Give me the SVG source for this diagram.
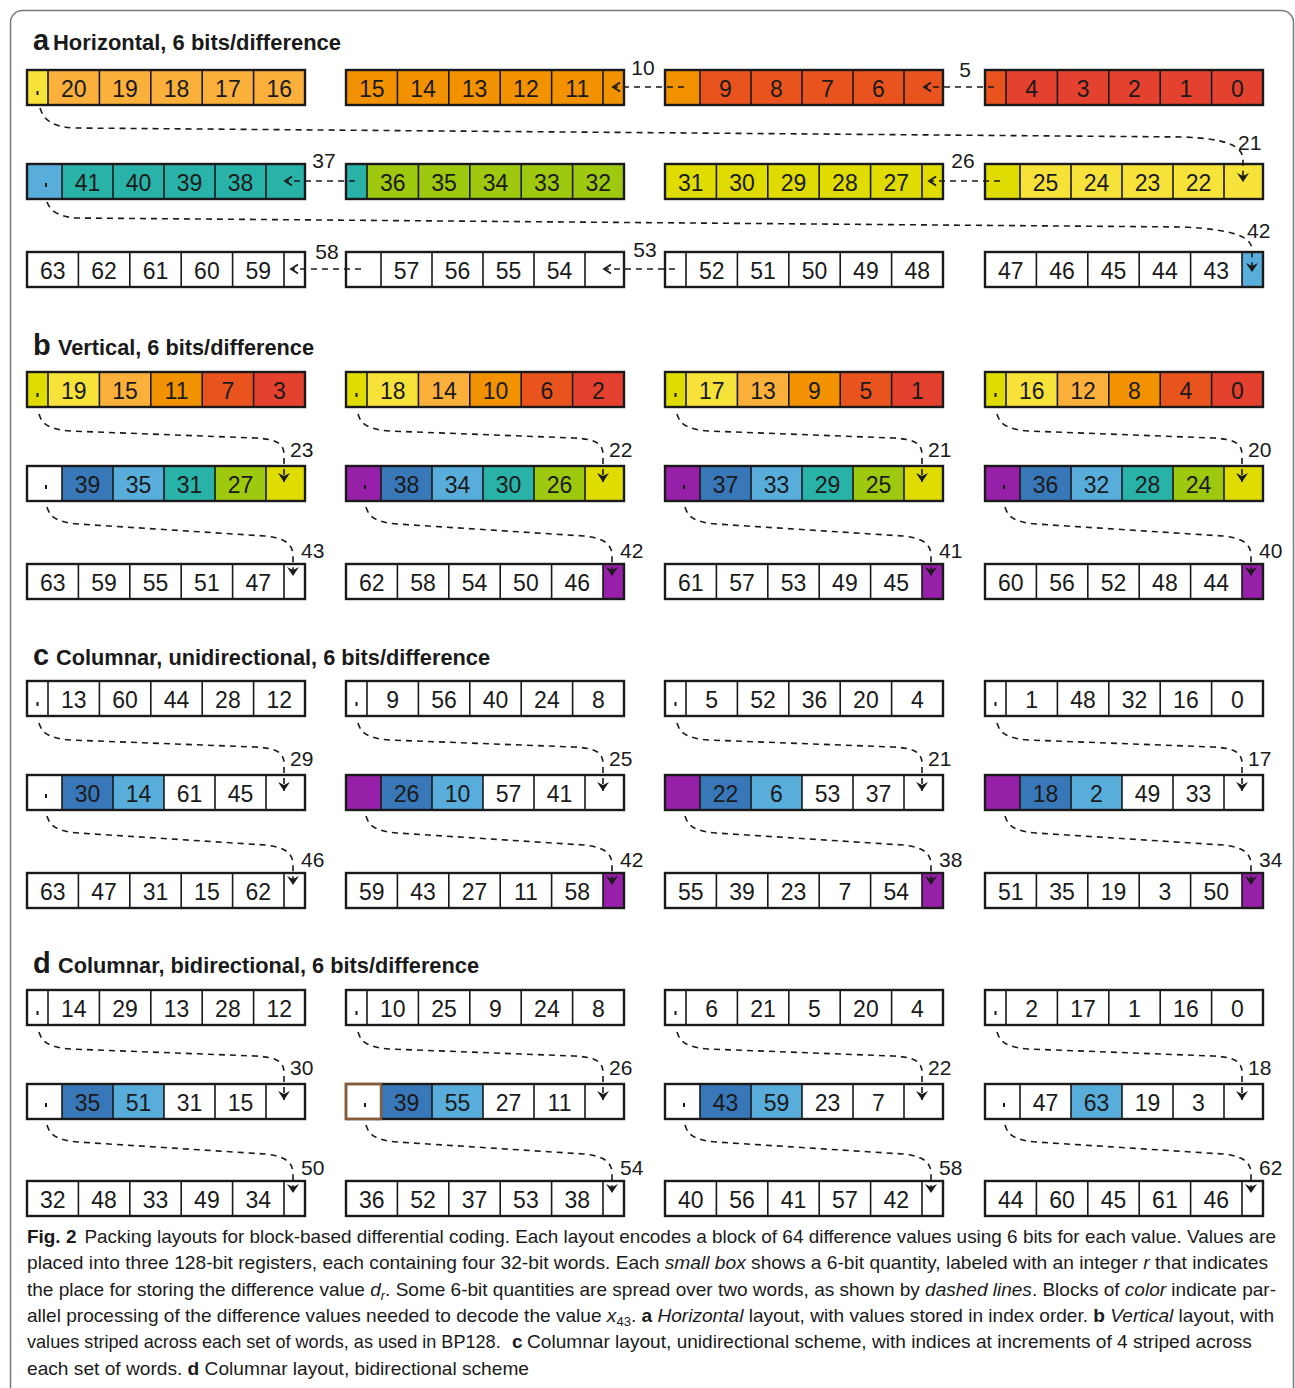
<svg xmlns="http://www.w3.org/2000/svg" xmlns:xlink="http://www.w3.org/1999/xlink" width="1295" height="1388" viewBox="0 0 1295 1388">
<style>
.R{fill:#e4412f}.RO{fill:#e9531d}.O{fill:#f39200}.LO{fill:#fbb03b}.Y{fill:#f7e23a}.YL{fill:#e0dc00}.G{fill:#9ec90f}.T{fill:#28b2a8}.LB{fill:#58addb}.DB{fill:#3878b8}.P{fill:#9620a8}.W{fill:#ffffff}
.dot{fill:#1a1a1a}
.n{font-family:"Liberation Sans Narrow","Liberation Sans",Arial,sans-serif;font-size:23px;text-anchor:middle;fill:#1a1a1a}
.lb{font-family:"Liberation Sans Narrow","Liberation Sans",Arial,sans-serif;font-size:21px;fill:#1a1a1a}
.lbm{font-family:"Liberation Sans Narrow","Liberation Sans",Arial,sans-serif;font-size:21px;fill:#1a1a1a;text-anchor:middle}
.tl{font-family:"Liberation Sans",Arial,sans-serif;font-size:29px;font-weight:bold;fill:#1a1a1a}
.tt{font-family:"Liberation Sans Narrow","Liberation Sans",Arial,sans-serif;font-size:22px;font-weight:bold;fill:#1a1a1a}
.cap{font-family:"Liberation Sans",Arial,sans-serif;font-size:19px;fill:#1a1a1a}
.dl{fill:none;stroke:#1a1a1a;stroke-width:1.6;stroke-dasharray:6 5}
</style>
<defs>
<path id="dA" d="M21 0V35M72.4 0V35M123.8 0V35M175.2 0V35M226.6 0V35" stroke="#1a1a1a" stroke-width="1.6" fill="none"/>
<path id="dB" d="M51.4 0V35M102.8 0V35M154.2 0V35M205.6 0V35M257 0V35" stroke="#1a1a1a" stroke-width="1.6" fill="none"/>
<path id="dC" d="M35 0V35M86 0V35M137 0V35M188 0V35M239 0V35" stroke="#1a1a1a" stroke-width="1.6" fill="none"/>
<rect id="ol" width="278" height="35" fill="none" stroke="#1a1a1a" stroke-width="2.4"/>
<marker id="ah" markerUnits="userSpaceOnUse" markerWidth="16" markerHeight="16" viewBox="-12 -8 16 16" refX="0" refY="0" orient="auto"><path d="M0 0L-9 -6L-6 0L-9 6Z" fill="#1a1a1a"/></marker>
<marker id="ch" markerUnits="userSpaceOnUse" markerWidth="16" markerHeight="16" viewBox="-10 -8 16 16" refX="0" refY="0" orient="auto"><path d="M-7 -4.5L0 0L-7 4.5" fill="none" stroke="#1a1a1a" stroke-width="1.8"/></marker>
</defs>
<rect width="1295" height="1388" fill="#ffffff"/>
<rect x="10.5" y="10.5" width="1283" height="1400" rx="12" fill="none" stroke="#7a7a7a" stroke-width="1.5"/>

<!-- titles -->
<text class="tl" x="33" y="50">a</text><text class="tt" x="53" y="50" textLength="288" lengthAdjust="spacingAndGlyphs">Horizontal, 6 bits/difference</text>
<text class="tl" x="33" y="355">b</text><text class="tt" x="58" y="355" textLength="256" lengthAdjust="spacingAndGlyphs">Vertical, 6 bits/difference</text>
<text class="tl" x="33" y="665">c</text><text class="tt" x="56" y="665" textLength="434" lengthAdjust="spacingAndGlyphs">Columnar, unidirectional, 6 bits/difference</text>
<text class="tl" x="33" y="973">d</text><text class="tt" x="58" y="973" textLength="421" lengthAdjust="spacingAndGlyphs">Columnar, bidirectional, 6 bits/difference</text>

<!-- section a -->
<g id="a1w3" transform="translate(27,70)"><rect class="LO" width="278" height="35"/><rect class="Y" width="21" height="35"/><use href="#dA"/><use href="#ol"/><rect class="dot" x="9.5" y="21" width="2" height="4"/><text class="n" y="26.5"><tspan x="46.7">20</tspan><tspan x="98.1">19</tspan><tspan x="149.5">18</tspan><tspan x="200.9">17</tspan><tspan x="252.3">16</tspan></text></g>
<g id="a1w2" transform="translate(346,70)"><rect class="O" width="278" height="35"/><use href="#dB"/><use href="#ol"/><text class="n" y="26.5"><tspan x="25.7">15</tspan><tspan x="77.1">14</tspan><tspan x="128.5">13</tspan><tspan x="179.9">12</tspan><tspan x="231.3">11</tspan></text></g>
<g id="a1w1" transform="translate(665,70)"><rect class="RO" width="278" height="35"/><rect class="O" width="35" height="35"/><use href="#dC"/><use href="#ol"/><text class="n" y="26.5"><tspan x="60.5">9</tspan><tspan x="111.5">8</tspan><tspan x="162.5">7</tspan><tspan x="213.5">6</tspan></text></g>
<g id="a1w0" transform="translate(985,70)"><rect class="R" width="278" height="35"/><rect class="RO" width="21" height="35"/><use href="#dA"/><use href="#ol"/><text class="n" y="26.5"><tspan x="46.7">4</tspan><tspan x="98.1">3</tspan><tspan x="149.5">2</tspan><tspan x="200.9">1</tspan><tspan x="252.3">0</tspan></text></g>

<g id="a2w3" transform="translate(27,164)"><rect class="T" width="278" height="35"/><rect class="LB" width="35" height="35"/><use href="#dC"/><use href="#ol"/><rect class="dot" x="18" y="19" width="2" height="4"/><text class="n" y="26.5"><tspan x="60.5">41</tspan><tspan x="111.5">40</tspan><tspan x="162.5">39</tspan><tspan x="213.5">38</tspan></text></g>
<g id="a2w2" transform="translate(346,164)"><rect class="G" width="278" height="35"/><rect class="T" width="21" height="35"/><use href="#dA"/><use href="#ol"/><text class="n" y="26.5"><tspan x="46.7">36</tspan><tspan x="98.1">35</tspan><tspan x="149.5">34</tspan><tspan x="200.9">33</tspan><tspan x="252.3">32</tspan></text></g>
<g id="a2w1" transform="translate(665,164)"><rect class="YL" width="278" height="35"/><use href="#dB"/><use href="#ol"/><text class="n" y="26.5"><tspan x="25.7">31</tspan><tspan x="77.1">30</tspan><tspan x="128.5">29</tspan><tspan x="179.9">28</tspan><tspan x="231.3">27</tspan></text></g>
<g id="a2w0" transform="translate(985,164)"><rect class="Y" width="278" height="35"/><rect class="YL" width="35" height="35"/><use href="#dC"/><use href="#ol"/><text class="n" y="26.5"><tspan x="60.5">25</tspan><tspan x="111.5">24</tspan><tspan x="162.5">23</tspan><tspan x="213.5">22</tspan></text></g>

<g id="a3w3" transform="translate(27,252)"><rect class="W" width="278" height="35"/><use href="#dB"/><use href="#ol"/><text class="n" y="26.5"><tspan x="25.7">63</tspan><tspan x="77.1">62</tspan><tspan x="128.5">61</tspan><tspan x="179.9">60</tspan><tspan x="231.3">59</tspan></text></g>
<g id="a3w2" transform="translate(346,252)"><rect class="W" width="278" height="35"/><use href="#dC"/><use href="#ol"/><text class="n" y="26.5"><tspan x="60.5">57</tspan><tspan x="111.5">56</tspan><tspan x="162.5">55</tspan><tspan x="213.5">54</tspan></text></g>
<g id="a3w1" transform="translate(665,252)"><rect class="W" width="278" height="35"/><use href="#dA"/><use href="#ol"/><text class="n" y="26.5"><tspan x="46.7">52</tspan><tspan x="98.1">51</tspan><tspan x="149.5">50</tspan><tspan x="200.9">49</tspan><tspan x="252.3">48</tspan></text></g>
<g id="a3w0" transform="translate(985,252)"><rect class="W" width="278" height="35"/><rect class="LB" x="257" width="21" height="35"/><use href="#dB"/><use href="#ol"/><text class="n" y="26.5"><tspan x="25.7">47</tspan><tspan x="77.1">46</tspan><tspan x="128.5">45</tspan><tspan x="179.9">44</tspan><tspan x="231.3">43</tspan></text></g>

<!-- section b -->
<g id="b1w3" transform="translate(27,372)"><rect class="YL" width="21" height="35"/><rect class="Y" x="21" width="51.4" height="35"/><rect class="LO" x="72.4" width="51.4" height="35"/><rect class="O" x="123.8" width="51.4" height="35"/><rect class="RO" x="175.2" width="51.4" height="35"/><rect class="R" x="226.6" width="51.4" height="35"/><use href="#dA"/><use href="#ol"/><rect class="dot" x="9.5" y="21" width="2" height="4"/><text class="n" y="26.5"><tspan x="46.7">19</tspan><tspan x="98.1">15</tspan><tspan x="149.5">11</tspan><tspan x="200.9">7</tspan><tspan x="252.3">3</tspan></text></g>
<g id="b1w2" transform="translate(346,372)"><rect class="YL" width="21" height="35"/><rect class="Y" x="21" width="51.4" height="35"/><rect class="LO" x="72.4" width="51.4" height="35"/><rect class="O" x="123.8" width="51.4" height="35"/><rect class="RO" x="175.2" width="51.4" height="35"/><rect class="R" x="226.6" width="51.4" height="35"/><use href="#dA"/><use href="#ol"/><rect class="dot" x="9.5" y="21" width="2" height="4"/><text class="n" y="26.5"><tspan x="46.7">18</tspan><tspan x="98.1">14</tspan><tspan x="149.5">10</tspan><tspan x="200.9">6</tspan><tspan x="252.3">2</tspan></text></g>
<g id="b1w1" transform="translate(665,372)"><rect class="YL" width="21" height="35"/><rect class="Y" x="21" width="51.4" height="35"/><rect class="LO" x="72.4" width="51.4" height="35"/><rect class="O" x="123.8" width="51.4" height="35"/><rect class="RO" x="175.2" width="51.4" height="35"/><rect class="R" x="226.6" width="51.4" height="35"/><use href="#dA"/><use href="#ol"/><rect class="dot" x="9.5" y="21" width="2" height="4"/><text class="n" y="26.5"><tspan x="46.7">17</tspan><tspan x="98.1">13</tspan><tspan x="149.5">9</tspan><tspan x="200.9">5</tspan><tspan x="252.3">1</tspan></text></g>
<g id="b1w0" transform="translate(985,372)"><rect class="YL" width="21" height="35"/><rect class="Y" x="21" width="51.4" height="35"/><rect class="LO" x="72.4" width="51.4" height="35"/><rect class="O" x="123.8" width="51.4" height="35"/><rect class="RO" x="175.2" width="51.4" height="35"/><rect class="R" x="226.6" width="51.4" height="35"/><use href="#dA"/><use href="#ol"/><rect class="dot" x="9.5" y="21" width="2" height="4"/><text class="n" y="26.5"><tspan x="46.7">16</tspan><tspan x="98.1">12</tspan><tspan x="149.5">8</tspan><tspan x="200.9">4</tspan><tspan x="252.3">0</tspan></text></g>

<g id="b2w3" transform="translate(27,466)"><rect class="W" width="35" height="35"/><rect class="DB" x="35" width="51" height="35"/><rect class="LB" x="86" width="51" height="35"/><rect class="T" x="137" width="51" height="35"/><rect class="G" x="188" width="51" height="35"/><rect class="YL" x="239" width="39" height="35"/><use href="#dC"/><use href="#ol"/><rect class="dot" x="18" y="19" width="2" height="4"/><text class="n" y="26.5"><tspan x="60.5">39</tspan><tspan x="111.5">35</tspan><tspan x="162.5">31</tspan><tspan x="213.5">27</tspan></text></g>
<g id="b2w2" transform="translate(346,466)"><rect class="P" width="35" height="35"/><rect class="DB" x="35" width="51" height="35"/><rect class="LB" x="86" width="51" height="35"/><rect class="T" x="137" width="51" height="35"/><rect class="G" x="188" width="51" height="35"/><rect class="YL" x="239" width="39" height="35"/><use href="#dC"/><use href="#ol"/><rect class="dot" x="18" y="19" width="2" height="4"/><text class="n" y="26.5"><tspan x="60.5">38</tspan><tspan x="111.5">34</tspan><tspan x="162.5">30</tspan><tspan x="213.5">26</tspan></text></g>
<g id="b2w1" transform="translate(665,466)"><rect class="P" width="35" height="35"/><rect class="DB" x="35" width="51" height="35"/><rect class="LB" x="86" width="51" height="35"/><rect class="T" x="137" width="51" height="35"/><rect class="G" x="188" width="51" height="35"/><rect class="YL" x="239" width="39" height="35"/><use href="#dC"/><use href="#ol"/><rect class="dot" x="18" y="19" width="2" height="4"/><text class="n" y="26.5"><tspan x="60.5">37</tspan><tspan x="111.5">33</tspan><tspan x="162.5">29</tspan><tspan x="213.5">25</tspan></text></g>
<g id="b2w0" transform="translate(985,466)"><rect class="P" width="35" height="35"/><rect class="DB" x="35" width="51" height="35"/><rect class="LB" x="86" width="51" height="35"/><rect class="T" x="137" width="51" height="35"/><rect class="G" x="188" width="51" height="35"/><rect class="YL" x="239" width="39" height="35"/><use href="#dC"/><use href="#ol"/><rect class="dot" x="18" y="19" width="2" height="4"/><text class="n" y="26.5"><tspan x="60.5">36</tspan><tspan x="111.5">32</tspan><tspan x="162.5">28</tspan><tspan x="213.5">24</tspan></text></g>

<g id="b3w3" transform="translate(27,564)"><rect class="W" width="278" height="35"/><use href="#dB"/><use href="#ol"/><text class="n" y="26.5"><tspan x="25.7">63</tspan><tspan x="77.1">59</tspan><tspan x="128.5">55</tspan><tspan x="179.9">51</tspan><tspan x="231.3">47</tspan></text></g>
<g id="b3w2" transform="translate(346,564)"><rect class="W" width="278" height="35"/><rect class="P" x="257" width="21" height="35"/><use href="#dB"/><use href="#ol"/><text class="n" y="26.5"><tspan x="25.7">62</tspan><tspan x="77.1">58</tspan><tspan x="128.5">54</tspan><tspan x="179.9">50</tspan><tspan x="231.3">46</tspan></text></g>
<g id="b3w1" transform="translate(665,564)"><rect class="W" width="278" height="35"/><rect class="P" x="257" width="21" height="35"/><use href="#dB"/><use href="#ol"/><text class="n" y="26.5"><tspan x="25.7">61</tspan><tspan x="77.1">57</tspan><tspan x="128.5">53</tspan><tspan x="179.9">49</tspan><tspan x="231.3">45</tspan></text></g>
<g id="b3w0" transform="translate(985,564)"><rect class="W" width="278" height="35"/><rect class="P" x="257" width="21" height="35"/><use href="#dB"/><use href="#ol"/><text class="n" y="26.5"><tspan x="25.7">60</tspan><tspan x="77.1">56</tspan><tspan x="128.5">52</tspan><tspan x="179.9">48</tspan><tspan x="231.3">44</tspan></text></g>

<!-- section c -->
<g id="c1w3" transform="translate(27,681)"><rect class="W" width="278" height="35"/><use href="#dA"/><use href="#ol"/><rect class="dot" x="9.5" y="21" width="2" height="4"/><text class="n" y="26.5"><tspan x="46.7">13</tspan><tspan x="98.1">60</tspan><tspan x="149.5">44</tspan><tspan x="200.9">28</tspan><tspan x="252.3">12</tspan></text></g>
<g id="c1w2" transform="translate(346,681)"><rect class="W" width="278" height="35"/><use href="#dA"/><use href="#ol"/><rect class="dot" x="9.5" y="21" width="2" height="4"/><text class="n" y="26.5"><tspan x="46.7">9</tspan><tspan x="98.1">56</tspan><tspan x="149.5">40</tspan><tspan x="200.9">24</tspan><tspan x="252.3">8</tspan></text></g>
<g id="c1w1" transform="translate(665,681)"><rect class="W" width="278" height="35"/><use href="#dA"/><use href="#ol"/><rect class="dot" x="9.5" y="21" width="2" height="4"/><text class="n" y="26.5"><tspan x="46.7">5</tspan><tspan x="98.1">52</tspan><tspan x="149.5">36</tspan><tspan x="200.9">20</tspan><tspan x="252.3">4</tspan></text></g>
<g id="c1w0" transform="translate(985,681)"><rect class="W" width="278" height="35"/><use href="#dA"/><use href="#ol"/><rect class="dot" x="9.5" y="21" width="2" height="4"/><text class="n" y="26.5"><tspan x="46.7">1</tspan><tspan x="98.1">48</tspan><tspan x="149.5">32</tspan><tspan x="200.9">16</tspan><tspan x="252.3">0</tspan></text></g>

<g id="c2w3" transform="translate(27,775)"><rect class="W" width="278" height="35"/><rect class="DB" x="35" width="51" height="35"/><rect class="LB" x="86" width="51" height="35"/><use href="#dC"/><use href="#ol"/><rect class="dot" x="18" y="19" width="2" height="4"/><text class="n" y="26.5"><tspan x="60.5">30</tspan><tspan x="111.5">14</tspan><tspan x="162.5">61</tspan><tspan x="213.5">45</tspan></text></g>
<g id="c2w2" transform="translate(346,775)"><rect class="W" width="278" height="35"/><rect class="P" width="35" height="35"/><rect class="DB" x="35" width="51" height="35"/><rect class="LB" x="86" width="51" height="35"/><use href="#dC"/><use href="#ol"/><text class="n" y="26.5"><tspan x="60.5">26</tspan><tspan x="111.5">10</tspan><tspan x="162.5">57</tspan><tspan x="213.5">41</tspan></text></g>
<g id="c2w1" transform="translate(665,775)"><rect class="W" width="278" height="35"/><rect class="P" width="35" height="35"/><rect class="DB" x="35" width="51" height="35"/><rect class="LB" x="86" width="51" height="35"/><use href="#dC"/><use href="#ol"/><text class="n" y="26.5"><tspan x="60.5">22</tspan><tspan x="111.5">6</tspan><tspan x="162.5">53</tspan><tspan x="213.5">37</tspan></text></g>
<g id="c2w0" transform="translate(985,775)"><rect class="W" width="278" height="35"/><rect class="P" width="35" height="35"/><rect class="DB" x="35" width="51" height="35"/><rect class="LB" x="86" width="51" height="35"/><use href="#dC"/><use href="#ol"/><text class="n" y="26.5"><tspan x="60.5">18</tspan><tspan x="111.5">2</tspan><tspan x="162.5">49</tspan><tspan x="213.5">33</tspan></text></g>

<g id="c3w3" transform="translate(27,873)"><rect class="W" width="278" height="35"/><use href="#dB"/><use href="#ol"/><text class="n" y="26.5"><tspan x="25.7">63</tspan><tspan x="77.1">47</tspan><tspan x="128.5">31</tspan><tspan x="179.9">15</tspan><tspan x="231.3">62</tspan></text></g>
<g id="c3w2" transform="translate(346,873)"><rect class="W" width="278" height="35"/><rect class="P" x="257" width="21" height="35"/><use href="#dB"/><use href="#ol"/><text class="n" y="26.5"><tspan x="25.7">59</tspan><tspan x="77.1">43</tspan><tspan x="128.5">27</tspan><tspan x="179.9">11</tspan><tspan x="231.3">58</tspan></text></g>
<g id="c3w1" transform="translate(665,873)"><rect class="W" width="278" height="35"/><rect class="P" x="257" width="21" height="35"/><use href="#dB"/><use href="#ol"/><text class="n" y="26.5"><tspan x="25.7">55</tspan><tspan x="77.1">39</tspan><tspan x="128.5">23</tspan><tspan x="179.9">7</tspan><tspan x="231.3">54</tspan></text></g>
<g id="c3w0" transform="translate(985,873)"><rect class="W" width="278" height="35"/><rect class="P" x="257" width="21" height="35"/><use href="#dB"/><use href="#ol"/><text class="n" y="26.5"><tspan x="25.7">51</tspan><tspan x="77.1">35</tspan><tspan x="128.5">19</tspan><tspan x="179.9">3</tspan><tspan x="231.3">50</tspan></text></g>

<!-- section d -->
<g id="d1w3" transform="translate(27,990)"><rect class="W" width="278" height="35"/><use href="#dA"/><use href="#ol"/><rect class="dot" x="9.5" y="21" width="2" height="4"/><text class="n" y="26.5"><tspan x="46.7">14</tspan><tspan x="98.1">29</tspan><tspan x="149.5">13</tspan><tspan x="200.9">28</tspan><tspan x="252.3">12</tspan></text></g>
<g id="d1w2" transform="translate(346,990)"><rect class="W" width="278" height="35"/><use href="#dA"/><use href="#ol"/><rect class="dot" x="9.5" y="21" width="2" height="4"/><text class="n" y="26.5"><tspan x="46.7">10</tspan><tspan x="98.1">25</tspan><tspan x="149.5">9</tspan><tspan x="200.9">24</tspan><tspan x="252.3">8</tspan></text></g>
<g id="d1w1" transform="translate(665,990)"><rect class="W" width="278" height="35"/><use href="#dA"/><use href="#ol"/><rect class="dot" x="9.5" y="21" width="2" height="4"/><text class="n" y="26.5"><tspan x="46.7">6</tspan><tspan x="98.1">21</tspan><tspan x="149.5">5</tspan><tspan x="200.9">20</tspan><tspan x="252.3">4</tspan></text></g>
<g id="d1w0" transform="translate(985,990)"><rect class="W" width="278" height="35"/><use href="#dA"/><use href="#ol"/><rect class="dot" x="9.5" y="21" width="2" height="4"/><text class="n" y="26.5"><tspan x="46.7">2</tspan><tspan x="98.1">17</tspan><tspan x="149.5">1</tspan><tspan x="200.9">16</tspan><tspan x="252.3">0</tspan></text></g>

<g id="d2w3" transform="translate(27,1084)"><rect class="W" width="278" height="35"/><rect class="DB" x="35" width="51" height="35"/><rect class="LB" x="86" width="51" height="35"/><use href="#dC"/><use href="#ol"/><rect class="dot" x="18" y="19" width="2" height="4"/><text class="n" y="26.5"><tspan x="60.5">35</tspan><tspan x="111.5">51</tspan><tspan x="162.5">31</tspan><tspan x="213.5">15</tspan></text></g>
<g id="d2w2" transform="translate(346,1084)"><rect class="W" width="278" height="35"/><rect class="DB" x="35" width="51" height="35"/><rect class="LB" x="86" width="51" height="35"/><use href="#dC"/><use href="#ol"/><rect x="0" y="0" width="35" height="35" fill="none" stroke="#8b5a36" stroke-width="2.4"/><rect class="dot" x="18" y="19" width="2" height="4"/><text class="n" y="26.5"><tspan x="60.5">39</tspan><tspan x="111.5">55</tspan><tspan x="162.5">27</tspan><tspan x="213.5">11</tspan></text></g>
<g id="d2w1" transform="translate(665,1084)"><rect class="W" width="278" height="35"/><rect class="DB" x="35" width="51" height="35"/><rect class="LB" x="86" width="51" height="35"/><use href="#dC"/><use href="#ol"/><rect class="dot" x="18" y="19" width="2" height="4"/><text class="n" y="26.5"><tspan x="60.5">43</tspan><tspan x="111.5">59</tspan><tspan x="162.5">23</tspan><tspan x="213.5">7</tspan></text></g>
<g id="d2w0" transform="translate(985,1084)"><rect class="W" width="278" height="35"/><rect class="LB" x="86" width="51" height="35"/><use href="#dC"/><use href="#ol"/><rect class="dot" x="18" y="19" width="2" height="4"/><text class="n" y="26.5"><tspan x="60.5">47</tspan><tspan x="111.5">63</tspan><tspan x="162.5">19</tspan><tspan x="213.5">3</tspan></text></g>

<g id="d3w3" transform="translate(27,1181)"><rect class="W" width="278" height="35"/><use href="#dB"/><use href="#ol"/><text class="n" y="26.5"><tspan x="25.7">32</tspan><tspan x="77.1">48</tspan><tspan x="128.5">33</tspan><tspan x="179.9">49</tspan><tspan x="231.3">34</tspan></text></g>
<g id="d3w2" transform="translate(346,1181)"><rect class="W" width="278" height="35"/><use href="#dB"/><use href="#ol"/><text class="n" y="26.5"><tspan x="25.7">36</tspan><tspan x="77.1">52</tspan><tspan x="128.5">37</tspan><tspan x="179.9">53</tspan><tspan x="231.3">38</tspan></text></g>
<g id="d3w1" transform="translate(665,1181)"><rect class="W" width="278" height="35"/><use href="#dB"/><use href="#ol"/><text class="n" y="26.5"><tspan x="25.7">40</tspan><tspan x="77.1">56</tspan><tspan x="128.5">41</tspan><tspan x="179.9">57</tspan><tspan x="231.3">42</tspan></text></g>
<g id="d3w0" transform="translate(985,1181)"><rect class="W" width="278" height="35"/><use href="#dB"/><use href="#ol"/><text class="n" y="26.5"><tspan x="25.7">44</tspan><tspan x="77.1">60</tspan><tspan x="128.5">45</tspan><tspan x="179.9">61</tspan><tspan x="231.3">46</tspan></text></g>

<!-- connectors -->
<g id="connectors">
<path class="dl" d="M40 108C44 120 52 127 75 128L1185 137C1225 139 1243 145 1243 160L1243 182" marker-end="url(#ah)"/>
<path class="dl" d="M47 202C50 210 57 216 75 218L1185 227C1232 230 1252 236 1252 250L1252 272" marker-end="url(#ah)"/>
<path class="dl" d="M684 87H613" marker-end="url(#ch)"/>
<path class="dl" d="M994 87H924" marker-end="url(#ch)"/>
<path class="dl" d="M355 181H285" marker-end="url(#ch)"/>
<path class="dl" d="M1000 181H929" marker-end="url(#ch)"/>
<path class="dl" d="M361 269H291" marker-end="url(#ch)"/>
<path class="dl" d="M675 269H604" marker-end="url(#ch)"/>

<path class="dl" transform="translate(27,372)" d="M12 42C15 52 21 57 43 59L228 66C249 67 257 71 257 83L257 110" marker-end="url(#ah)"/>
<path class="dl" transform="translate(346,372)" d="M12 42C15 52 21 57 43 59L228 66C249 67 257 71 257 83L257 110" marker-end="url(#ah)"/>
<path class="dl" transform="translate(665,372)" d="M12 42C15 52 21 57 43 59L228 66C249 67 257 71 257 83L257 110" marker-end="url(#ah)"/>
<path class="dl" transform="translate(985,372)" d="M12 42C15 52 21 57 43 59L228 66C249 67 257 71 257 83L257 110" marker-end="url(#ah)"/>
<path class="dl" transform="translate(27,466)" d="M20 41C23 51 29 56 51 58L238 70C258 72 266 78 266 90L266 110" marker-end="url(#ah)"/>
<path class="dl" transform="translate(346,466)" d="M20 41C23 51 29 56 51 58L238 70C258 72 266 78 266 90L266 110" marker-end="url(#ah)"/>
<path class="dl" transform="translate(665,466)" d="M20 41C23 51 29 56 51 58L238 70C258 72 266 78 266 90L266 110" marker-end="url(#ah)"/>
<path class="dl" transform="translate(985,466)" d="M20 41C23 51 29 56 51 58L238 70C258 72 266 78 266 90L266 110" marker-end="url(#ah)"/>

<path class="dl" transform="translate(27,681)" d="M12 42C15 52 21 57 43 59L228 66C249 67 257 71 257 83L257 110" marker-end="url(#ah)"/>
<path class="dl" transform="translate(346,681)" d="M12 42C15 52 21 57 43 59L228 66C249 67 257 71 257 83L257 110" marker-end="url(#ah)"/>
<path class="dl" transform="translate(665,681)" d="M12 42C15 52 21 57 43 59L228 66C249 67 257 71 257 83L257 110" marker-end="url(#ah)"/>
<path class="dl" transform="translate(985,681)" d="M12 42C15 52 21 57 43 59L228 66C249 67 257 71 257 83L257 110" marker-end="url(#ah)"/>
<path class="dl" transform="translate(27,775)" d="M20 41C23 51 29 56 51 58L238 70C258 72 266 78 266 90L266 110" marker-end="url(#ah)"/>
<path class="dl" transform="translate(346,775)" d="M20 41C23 51 29 56 51 58L238 70C258 72 266 78 266 90L266 110" marker-end="url(#ah)"/>
<path class="dl" transform="translate(665,775)" d="M20 41C23 51 29 56 51 58L238 70C258 72 266 78 266 90L266 110" marker-end="url(#ah)"/>
<path class="dl" transform="translate(985,775)" d="M20 41C23 51 29 56 51 58L238 70C258 72 266 78 266 90L266 110" marker-end="url(#ah)"/>

<path class="dl" transform="translate(27,990)" d="M12 42C15 52 21 57 43 59L228 66C249 67 257 71 257 83L257 110" marker-end="url(#ah)"/>
<path class="dl" transform="translate(346,990)" d="M12 42C15 52 21 57 43 59L228 66C249 67 257 71 257 83L257 110" marker-end="url(#ah)"/>
<path class="dl" transform="translate(665,990)" d="M12 42C15 52 21 57 43 59L228 66C249 67 257 71 257 83L257 110" marker-end="url(#ah)"/>
<path class="dl" transform="translate(985,990)" d="M12 42C15 52 21 57 43 59L228 66C249 67 257 71 257 83L257 110" marker-end="url(#ah)"/>
<path class="dl" transform="translate(27,1084)" d="M20 41C23 51 29 56 51 58L238 70C258 72 266 78 266 90L266 109" marker-end="url(#ah)"/>
<path class="dl" transform="translate(346,1084)" d="M20 41C23 51 29 56 51 58L238 70C258 72 266 78 266 90L266 109" marker-end="url(#ah)"/>
<path class="dl" transform="translate(665,1084)" d="M20 41C23 51 29 56 51 58L238 70C258 72 266 78 266 90L266 109" marker-end="url(#ah)"/>
<path class="dl" transform="translate(985,1084)" d="M20 41C23 51 29 56 51 58L238 70C258 72 266 78 266 90L266 109" marker-end="url(#ah)"/>
</g>

<!-- connector labels -->
<g id="labels">
<text class="lbm" x="643" y="75">10</text>
<text class="lbm" x="965" y="77">5</text>
<text class="lbm" x="324" y="168">37</text>
<text class="lbm" x="963" y="168">26</text>
<text class="lbm" x="327" y="259">58</text>
<text class="lbm" x="645" y="257">53</text>
<text class="lb" x="1238" y="150">21</text>
<text class="lb" x="1247" y="238">42</text>

<text class="lb" x="290" y="457">23</text><text class="lb" x="609" y="457">22</text><text class="lb" x="928" y="457">21</text><text class="lb" x="1248" y="457">20</text>
<text class="lb" x="301" y="558">43</text><text class="lb" x="620" y="558">42</text><text class="lb" x="939" y="558">41</text><text class="lb" x="1259" y="558">40</text>
<text class="lb" x="290" y="766">29</text><text class="lb" x="609" y="766">25</text><text class="lb" x="928" y="766">21</text><text class="lb" x="1248" y="766">17</text>
<text class="lb" x="301" y="867">46</text><text class="lb" x="620" y="867">42</text><text class="lb" x="939" y="867">38</text><text class="lb" x="1259" y="867">34</text>
<text class="lb" x="290" y="1075">30</text><text class="lb" x="609" y="1075">26</text><text class="lb" x="928" y="1075">22</text><text class="lb" x="1248" y="1075">18</text>
<text class="lb" x="301" y="1175">50</text><text class="lb" x="620" y="1175">54</text><text class="lb" x="939" y="1175">58</text><text class="lb" x="1259" y="1175">62</text>
</g>

<!-- caption -->
<g id="caption">
<text class="cap" x="27" y="1243" textLength="1249" lengthAdjust="spacingAndGlyphs"><tspan font-weight="bold">Fig. 2</tspan><tspan dx="8">Packing layouts for block-based differential coding. Each layout encodes a block of 64 difference values using 6 bits for each value. Values are</tspan></text>
<text class="cap" x="27" y="1269" textLength="1241" lengthAdjust="spacingAndGlyphs">placed into three 128-bit registers, each containing four 32-bit words. Each <tspan font-style="italic">small box</tspan> shows a 6-bit quantity, labeled with an integer <tspan font-style="italic">r</tspan> that indicates</text>
<text class="cap" x="27" y="1295.5" textLength="1249" lengthAdjust="spacingAndGlyphs">the place for storing the difference value <tspan font-style="italic">d</tspan><tspan font-style="italic" font-size="13" dy="4">r</tspan><tspan dy="-4">. Some 6-bit quantities are spread over two words, as shown by </tspan><tspan font-style="italic">dashed lines</tspan>. Blocks of <tspan font-style="italic">color</tspan> indicate par-</text>
<text class="cap" x="27" y="1322" textLength="1247" lengthAdjust="spacingAndGlyphs">allel processing of the difference values needed to decode the value <tspan font-style="italic">x</tspan><tspan font-size="13" dy="4">43</tspan><tspan dy="-4">. </tspan><tspan font-weight="bold">a</tspan> <tspan font-style="italic">Horizontal</tspan> layout, with values stored in index order. <tspan font-weight="bold">b</tspan> <tspan font-style="italic">Vertical</tspan> layout, with</text>
<text class="cap" x="27" y="1348" style="font-size:18.1px">values striped across each set of words, as used in BP128.</text>
<text class="cap" x="512" y="1348" font-weight="bold">c</text>
<text class="cap" x="527" y="1348" style="font-size:19.1px">Columnar layout, unidirectional scheme, with indices at increments of 4 striped across</text>
<text class="cap" x="27" y="1374.5" textLength="502" lengthAdjust="spacingAndGlyphs">each set of words. <tspan font-weight="bold">d</tspan> Columnar layout, bidirectional scheme</text>
</g>
</svg>
